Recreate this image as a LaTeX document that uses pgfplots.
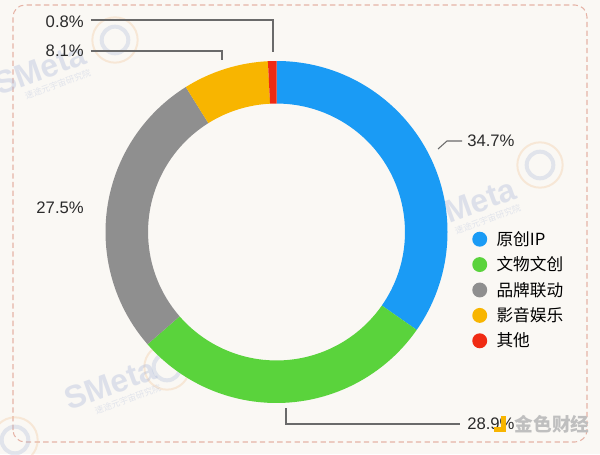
\documentclass[border=0pt]{standalone}
\usepackage{pgfplots}
\pgfplotsset{compat=1.18}
\usepackage{pgfplotstable}
\usepackage{fontspec}
\setmainfont{Liberation Sans}
\newfontfamily\cjk{Noto Sans CJK SC}

\definecolor{cIP}{HTML}{1A9BF5}
\definecolor{cWW}{HTML}{5AD33C}
\definecolor{cPP}{HTML}{8F8F8F}
\definecolor{cYY}{HTML}{F8B500}
\definecolor{cQT}{HTML}{F02B13}
\definecolor{bgc}{HTML}{FAF8F4}
\definecolor{dashc}{HTML}{E6B3A6}
\definecolor{leader}{HTML}{6A6A6A}
\definecolor{txt}{HTML}{2B2B2B}
\definecolor{wmblue}{HTML}{A8B6D8}
\definecolor{wmorange}{HTML}{F2C9A0}

\pgfplotstableread{
share colour
34.7 cIP
28.9 cWW
27.5 cPP
8.1 cYY
0.8 cQT
}\sharetable

% start/end angle of each slice, clockwise from 12 o'clock
\pgfmathsetmacro\acc{90}
\foreach \i in {0,...,4}{%
  \pgfplotstablegetelem{\i}{share}\of\sharetable
  \pgfmathsetmacro\nxt{\acc-3.6*\pgfplotsretval}%
  \expandafter\xdef\csname sa\i\endcsname{\acc}%
  \expandafter\xdef\csname ea\i\endcsname{\nxt}%
  \global\let\acc\nxt
}

% ring slice: colour, index
\newcommand\slice[2]{%
  \fill[#1] (axis cs:276.5,222) ++(\csname sa#2\endcsname:128.25pt)
    arc[start angle=\csname sa#2\endcsname, end angle=\csname ea#2\endcsname, radius=128.25pt]
    -- ++(\csname ea#2\endcsname:-31.9pt)
    arc[start angle=\csname ea#2\endcsname, end angle=\csname sa#2\endcsname, radius=96.35pt]
    -- cycle;}

% faint watermark
\newcommand\wm[2]{%
  \begin{scope}[shift={(axis cs:#1,#2)}, rotate=20, transform shape]
    \node[text=wmblue, opacity=0.35, font=\bfseries\fontsize{24}{24}\selectfont] at (0,0) {SMeta};
    \node[text=wmblue, opacity=0.3, font=\cjk\fontsize{6.5}{7}\selectfont] at (0.3cm,-0.55cm) {速途元宇宙研究院};
  \end{scope}}
\newcommand\logo[2]{%
  \draw[wmorange, line width=1.5pt, opacity=0.35] (axis cs:#1,#2) circle (17pt);
  \draw[wmblue, line width=3pt, opacity=0.3] (axis cs:#1,#2) circle (10pt);}

\begin{document}
\begin{tikzpicture}
\begin{axis}[
    x=0.75pt, y=0.75pt,
    xmin=0, xmax=600, ymin=0, ymax=454,
    hide axis, clip=false,
    legend style={at={(axis cs:472,164)}, anchor=west, draw=none, fill=none,
        inner sep=0pt, row sep=3pt,
        font=\cjk\fontsize{12.5}{14}\selectfont,
        nodes={text=black},
        /tikz/every odd column/.append style={column sep=5pt}},
    legend cell align=left,
    legend image code/.code={\fill[#1, draw=none] (5.6pt,0pt) circle (5.6pt);},
]
% page
\fill[bgc] (axis cs:0,0) rectangle (axis cs:600,454);
\draw[dashc, line width=0.8pt, dash pattern=on 4pt off 2.5pt, rounded corners=9pt]
    (axis cs:13,12) rectangle (axis cs:587,449);

% watermarks
\logo{115}{414}
\logo{540}{289}
\logo{167}{87}
\logo{15}{14}
\wm{40}{385}
\wm{470}{250}
\wm{110}{70}

% donut
\slice{cIP}{0}
\slice{cWW}{1}
\slice{cPP}{2}
\slice{cYY}{3}
\slice{cQT}{4}

% leader lines
\draw[leader, line width=0.8pt] (axis cs:91,434) -- (axis cs:273,434) -- (axis cs:273,402);
\draw[leader, line width=0.8pt] (axis cs:91,403) -- (axis cs:222,403) -- (axis cs:222,394);
\draw[leader, line width=0.8pt] (axis cs:438,305) -- (axis cs:447,313) -- (axis cs:462,313);
\draw[leader, line width=0.8pt] (axis cs:286,46) -- (axis cs:286,30) -- (axis cs:460,30);

% labels
\begin{scope}[every node/.style={text=txt, font=\fontsize{12.5}{14}\selectfont, inner sep=0pt}]
\node[anchor=east] at (axis cs:84,432) {0.8\%};
\node[anchor=east] at (axis cs:84,403) {8.1\%};
\node[anchor=east] at (axis cs:84,246) {27.5\%};
\node[anchor=west] at (axis cs:467,313) {34.7\%};
\node[anchor=west] at (axis cs:467,30) {28.9\%};
\end{scope}

% source mark
\fill[cYY] (axis cs:494,22) rectangle (axis cs:506,27);
\fill[cYY] (axis cs:501,22) rectangle (axis cs:506,38);
\node[text=black!25, font=\cjk\bfseries\fontsize{14}{14}\selectfont, anchor=west] at (axis cs:510,30) {金色财经};

\addlegendimage{fill=cIP}
\addlegendentry{原创IP}
\addlegendimage{fill=cWW}
\addlegendentry{文物文创}
\addlegendimage{fill=cPP}
\addlegendentry{品牌联动}
\addlegendimage{fill=cYY}
\addlegendentry{影音娱乐}
\addlegendimage{fill=cQT}
\addlegendentry{其他}
\end{axis}
\pgfresetboundingbox
\path[use as bounding box] (0,0) rectangle (450pt,340.5pt);
\end{tikzpicture}
\end{document}
